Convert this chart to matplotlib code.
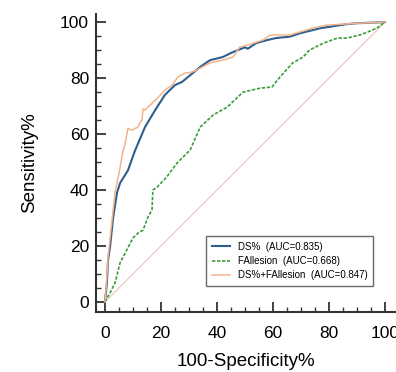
import matplotlib
matplotlib.use("Agg")
import matplotlib.pyplot as plt
from matplotlib.ticker import MultipleLocator

plt.rcParams["font.family"] = ["Liberation Sans", "DejaVu Sans"]

# ROC curves (100-Specificity%, Sensitivity%)
ds_x = [0, 0.7, 1.1, 1.8, 2.9, 4.3, 5.4, 8.2, 10.7, 14.3, 17.9, 21.4, 25, 27.5, 30.4,
        34, 37.5, 42, 45.7, 50, 51, 54, 58, 61, 66, 69.6, 76.8, 86.4, 90, 100]
ds_y = [0, 6.8, 15, 19.6, 30, 39, 42.5, 47, 54, 62.5, 68.5, 74, 77.5, 78.6, 81,
        84, 86.4, 87.5, 89.3, 91, 90.5, 92.5, 93.6, 94.3, 94.8, 96, 97.8, 99.3, 99.6, 100]

fa_x = [0, 1.8, 3.6, 5.4, 7.8, 10, 11.8, 13.6, 15.4, 16.8, 17.1, 18.6, 22, 25.7, 30.4,
        34, 38.6, 43.6, 49.3, 55.4, 59.6, 62.5, 67, 70.7, 73, 78, 83, 86.4, 91, 93.6, 97, 99.3, 100]
fa_y = [0, 3.2, 6.8, 14, 18.6, 22.9, 24.6, 25.7, 30.4, 33, 40, 41, 44.6, 49.6, 54.3,
        62.5, 66.8, 69.6, 75, 76.4, 76.8, 80.4, 85.4, 87.5, 90, 92.5, 94.3, 94.3, 95.4, 96.4, 97.8, 99.6, 100]

cb_x = [0, 0.7, 1.1, 2.5, 3.6, 5.4, 6.4, 7.1, 7.8, 8.2, 9.6, 11.8, 12.5, 13.2, 13.6, 14.3,
        16.8, 18.9, 21.4, 24, 26, 28.6, 30.4, 32, 37.5, 42, 45.7, 48, 51, 56.4, 59, 66,
        74, 79, 90, 100]
cb_y = [0, 9, 16, 29, 39, 48, 54, 56, 60, 62, 61.4, 62.5, 64, 65, 69, 68.6,
        71, 73, 75.7, 77.5, 80.4, 81.8, 82, 82.5, 85.4, 86.4, 87.5, 91, 91.8, 93.6, 95.4, 95.4,
        97.8, 98.9, 99.6, 100]

labels = ["DS%  (AUC=0.835)", "FAllesion  (AUC=0.668)", "DS%+FAllesion  (AUC=0.847)"]

fig = plt.figure(figsize=(3.96, 3.72), dpi=100)
ax = fig.add_axes([96 / 396, 60 / 372, 300 / 396, 298 / 372])

ax.plot([0, 100], [0, 100], color="#e8c4bc", lw=0.8)
ax.plot(ds_x, ds_y, color="#2e5f8e", lw=1.5, label=labels[0])
ax.plot(fa_x, fa_y, color="#3a9e3a", lw=1.2, ls=(0, (2, 1)), label=labels[1])
ax.plot(cb_x, cb_y, color="#f2b48a", lw=1.1, label=labels[2])

ax.set_xlim(-3.2, 103.9)
ax.set_ylim(-3.6, 102.9)
ax.set_xticks([0, 20, 40, 60, 80, 100])
ax.set_yticks([0, 20, 40, 60, 80, 100])
ax.xaxis.set_minor_locator(MultipleLocator(5))
ax.yaxis.set_minor_locator(MultipleLocator(5))
ax.tick_params(which="major", direction="in", length=7, width=1.3, color="#333333",
               labelsize=12.5)
ax.tick_params(axis="x", which="major", pad=10)
ax.tick_params(axis="y", which="major", pad=5)
ax.tick_params(which="minor", direction="in", length=3.5, width=1, color="#333333")

for s in ["top", "right"]:
    ax.spines[s].set_visible(False)
for s in ["left", "bottom"]:
    ax.spines[s].set_linewidth(1.5)
    ax.spines[s].set_color("#333333")

ax.set_xlabel("100-Specificity%", fontsize=13.5, labelpad=9)
ax.set_ylabel("Sensitivity%", fontsize=13.5, labelpad=16)

leg = ax.legend(loc="lower right", bbox_to_anchor=(0.94, 0.07), fontsize=7,
                fancybox=False, edgecolor="#444444", handlelength=1.8,
                handletextpad=0.8, borderpad=0.6, labelspacing=0.45)
leg.get_frame().set_linewidth(1)

fig.savefig("out.png", dpi=100)
